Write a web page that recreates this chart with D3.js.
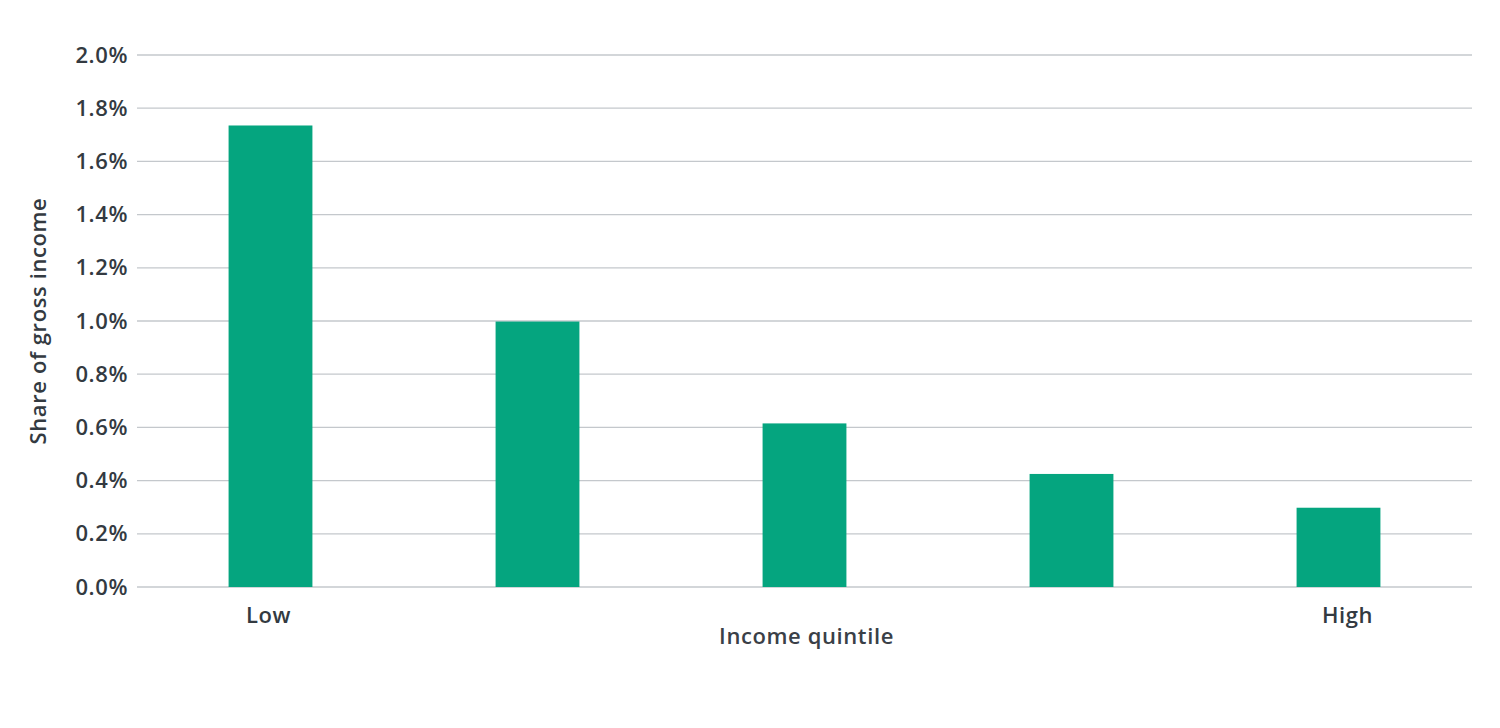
<!DOCTYPE html>
<html>
<head>
<meta charset="utf-8">
<script src="https://cdn.jsdelivr.net/npm/d3@7"></script>
<style>
  body { margin: 0; background: #fff; }
  text { font-family: "Open Sans", Lato, sans-serif; fill: #333a41; }
</style>
</head>
<body>
<div id="chart"></div>
<script>
// data
var quintiles = ["Low", "2", "3", "4", "High"];
var quintileLabels = ["Low", "", "", "", "High"];
var shares = [1.735, 0.998, 0.615, 0.425, 0.298];
var yTicks = [0, 0.2, 0.4, 0.6, 0.8, 1.0, 1.2, 1.4, 1.6, 1.8, 2.0];

var W = 1500, H = 728;
var margin = { top: 55, right: 28, bottom: 141, left: 137 },
    width = W - margin.left - margin.right,
    height = H - margin.top - margin.bottom;

var font = "'Open Sans', Lato, sans-serif";

var svg = d3.select("#chart")
  .append("svg")
  .attr("width", W)
  .attr("height", H)
  .append("g")
  .attr("transform", "translate(" + margin.left + "," + margin.top + ")");

var x = d3.scaleBand()
  .domain(quintiles)
  .range([0, width])
  .paddingInner(0.686)
  .paddingOuter(0.343);

var y = d3.scaleLinear()
  .domain([0, 2.0])
  .range([height, 0]);

// gridlines
svg.append("g")
  .selectAll("line")
  .data(yTicks)
  .enter()
  .append("line")
  .attr("x1", 0)
  .attr("x2", width)
  .attr("y1", function (d) { return y(d); })
  .attr("y2", function (d) { return y(d); })
  .attr("stroke", "#c4c8cc")
  .attr("stroke-width", 1.3);

// y tick labels
var yAxis = svg.append("g")
  .call(d3.axisLeft(y).tickValues(yTicks).tickSize(0).tickPadding(9)
    .tickFormat(function (d) { return d.toFixed(1) + "%"; }));
yAxis.select(".domain").remove();
yAxis.selectAll("text")
  .style("font-size", "22px")
  .style("font-weight", "600")
  .style("letter-spacing", "0.6px")
  .style("font-family", font)
  .attr("fill", "#333a41");

// bars
svg.selectAll("rect.bar")
  .data(shares)
  .enter()
  .append("rect")
  .attr("class", "bar")
  .attr("x", function (d, i) { return x(quintiles[i]); })
  .attr("width", x.bandwidth())
  .attr("y", function (d) { return y(d); })
  .attr("height", function (d) { return height - y(d); })
  .attr("fill", "#05a57f");

// x labels
var xAxis = svg.append("g")
  .attr("transform", "translate(0," + height + ")")
  .call(d3.axisBottom(x).tickSize(0).tickPadding(20)
    .tickFormat(function (d, i) { return quintileLabels[i]; }));
xAxis.select(".domain").remove();
xAxis.selectAll("text")
  .style("font-size", "22px")
  .style("font-weight", "600")
  .style("letter-spacing", "0.6px")
  .style("font-family", font)
  .attr("dx", function (d, i) { return i === quintiles.length - 1 ? 9 : -2; })
  .attr("fill", "#3a4047");

// axis titles
svg.append("text")
  .attr("x", width / 2 + 2)
  .attr("y", height + 57)
  .attr("text-anchor", "middle")
  .style("font-size", "22px")
  .style("font-weight", "600")
  .style("letter-spacing", "0.6px")
  .style("fill", "#3a4047")
  .text("Income quintile");

svg.append("text")
  .attr("transform", "translate(" + (-91) + "," + (height / 2) + ") rotate(-90)")
  .attr("text-anchor", "middle")
  .style("font-size", "22px")
  .style("font-weight", "600")
  .style("letter-spacing", "0.6px")
  .text("Share of gross income");
</script>
</body>
</html>
